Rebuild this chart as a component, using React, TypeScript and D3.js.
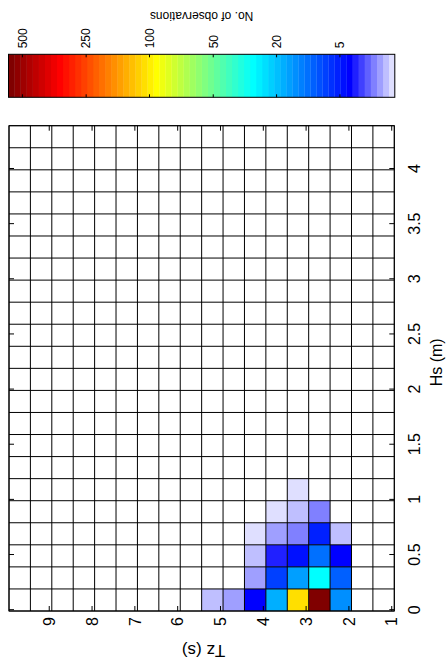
import React from "react";
import * as d3 from "d3";

const W = 448;
const H = 666;
const FONT = "'Liberation Sans', Arial, Helvetica, sans-serif";

// ---- data ----
const tzBinLower = [1, 1.5, 2, 2.5, 3, 3.5, 4, 4.5, 5];
const hsBinLower = [0, 0.2, 0.4, 0.6, 0.8, 1.0];
// rows: Hs bins, columns: Tz bins
const obsHs00 = [0, 0, 15.6, 540, 112, 18.5, 4.1, 1.4, 0.8];
const obsHs02 = [0, 0, 11.3, 31, 17, 8.5, 1.4, 0, 0];
const obsHs04 = [0, 0, 4.1, 12.7, 4.7, 3.6, 0.8, 0, 0];
const obsHs06 = [0, 0, 0.8, 5.6, 1.9, 1.4, 0.3, 0, 0];
const obsHs08 = [0, 0, 0, 1.9, 0.8, 0.3, 0, 0, 0];
const obsHs10 = [0, 0, 0, 0, 0.3, 0, 0, 0, 0];
const observations = [obsHs00, obsHs02, obsHs04, obsHs06, obsHs08, obsHs10];

const tzTicks = [1, 2, 3, 4, 5, 6, 7, 8, 9];
const hsTicks = [0, 0.5, 1, 1.5, 2, 2.5, 3, 3.5, 4];
const cbTicks = [5, 20, 50, 100, 250, 500];
const cbLevels = [0, 5, 20, 50, 100, 250, 500, 555];
const cbLevelPos = [0, 0.142, 0.306, 0.47, 0.635, 0.799, 0.964, 1];

const N_COLORS = 64;
const N_LAVENDER = 7;

function jetChannel(j: number) {
  if (j < 0 || j > 46) return 0;
  if (j < 16) return (j + 1) / 16;
  if (j <= 30) return 1;
  return (47 - j) / 16;
}
function colorAt(i: number) {
  if (i < N_LAVENDER) {
    const c = 1 - (i + 1) / 8;
    return d3.rgb(c * 255, c * 255, 255).formatHex();
  }
  const r = jetChannel(i - 24);
  const g = jetChannel(i - 8);
  const b = jetChannel(i + 8);
  return d3.rgb(r * 255, g * 255, b * 255).formatHex();
}
const palette = d3.range(N_COLORS).map(colorAt);

// ---- layout ----
const plot = { left: 9, right: 394.3, top: 125.7, bottom: 611 };
const cb = { left: 8.5, right: 394.8, top: 54.3, bottom: 97.3 };

// axis scales (Tz runs right->left, Hs bottom->top)
const tzAxis = d3.scaleLinear().domain([0.94, 9.94]).range([plot.right, plot.left]);
const hsAxis = d3.scaleLinear().domain([-0.012, 4.388]).range([plot.bottom, plot.top]);
// bin-edge scales
const tzGrid = d3.scaleLinear().domain([1, 10]).range([plot.right, plot.left]);
const hsGrid = d3.scaleLinear().domain([0, 4.4]).range([plot.bottom, plot.top]);

const valueToPos = d3.scaleLinear().domain(cbLevels).range(cbLevelPos).clamp(true);
const cbX = d3.scaleLinear().domain([0, 1]).range([cb.right, cb.left]);
const colorFor = (v: number) =>
  palette[Math.min(N_COLORS - 1, Math.floor(valueToPos(v) * N_COLORS))];

const tzEdges = d3.range(1, 10.0001, 0.5);
const hsEdges = d3.range(0, 4.40001, 0.2);

export default function App() {
  const tick = 5;
  const cap16 = 11.5;
  const cap12 = 8.6;
  return (
    <svg
      width={W}
      height={H}
      style={{ position: "absolute", left: 0, top: 0, background: "#fff" }}
      fontFamily={FONT}
    >
      <rect x={0} y={0} width={W} height={H} fill="#fff" />

      {/* colorbar */}
      {palette.map((c, i) => (
        <rect
          key={"cb" + i}
          x={cbX((i + 1) / N_COLORS)}
          y={cb.top}
          width={cbX(i / N_COLORS) - cbX((i + 1) / N_COLORS) + 0.3}
          height={cb.bottom - cb.top}
          fill={c}
        />
      ))}
      <rect
        x={cb.left}
        y={cb.top}
        width={cb.right - cb.left}
        height={cb.bottom - cb.top}
        fill="none"
        stroke="#000"
        strokeWidth={1}
      />
      {cbTicks.map((v) => {
        const x = cbX(valueToPos(v));
        return (
          <g key={"cbt" + v}>
            <line x1={x} x2={x} y1={cb.top} y2={cb.top + 3} stroke="#000" />
            <line x1={x} x2={x} y1={cb.bottom} y2={cb.bottom - 3} stroke="#000" />
            <text
              transform={`translate(${x + cap12 / 2},${cb.top - 6}) rotate(-90)`}
              fontSize={12}
              textAnchor="start"
            >
              {v}
            </text>
          </g>
        );
      })}
      <text
        transform={`translate(${(cb.left + cb.right) / 2},11.5) rotate(180)`}
        fontSize={12}
        textAnchor="middle"
      >
        No. of observations
      </text>

      {/* cells */}
      {observations.map((row, r) =>
        row.map((v, c) =>
          v > 0 ? (
            <rect
              key={`c${r}-${c}`}
              x={tzGrid(tzBinLower[c] + 0.5)}
              y={hsGrid(hsBinLower[r] + 0.2)}
              width={tzGrid(tzBinLower[c]) - tzGrid(tzBinLower[c] + 0.5)}
              height={hsGrid(hsBinLower[r]) - hsGrid(hsBinLower[r] + 0.2)}
              fill={colorFor(v)}
            />
          ) : null
        )
      )}

      {/* grid */}
      {tzEdges.map((t, i) => (
        <line
          key={"gv" + i}
          x1={tzGrid(t)}
          x2={tzGrid(t)}
          y1={plot.top}
          y2={plot.bottom}
          stroke="#000"
          strokeWidth={1}
        />
      ))}
      {hsEdges.map((h, i) => (
        <line
          key={"gh" + i}
          x1={plot.left}
          x2={plot.right}
          y1={hsGrid(h)}
          y2={hsGrid(h)}
          stroke="#000"
          strokeWidth={1}
        />
      ))}
      <rect
        x={plot.left}
        y={plot.top}
        width={plot.right - plot.left}
        height={plot.bottom - plot.top}
        fill="none"
        stroke="#000"
        strokeWidth={1}
      />

      {/* Tz axis (bottom) */}
      {tzTicks.map((t) => {
        const x = tzAxis(t);
        return (
          <g key={"tz" + t}>
            <line x1={x} x2={x} y1={plot.bottom} y2={plot.bottom - tick} stroke="#000" />
            <line x1={x} x2={x} y1={plot.top} y2={plot.top + tick} stroke="#000" />
            <text
              transform={`translate(${x + cap16 / 2},${plot.bottom + 6}) rotate(-90)`}
              fontSize={16}
              textAnchor="end"
            >
              {t}
            </text>
          </g>
        );
      })}
      <text
        transform={`translate(${(plot.left + plot.right) / 2 + 2},645) rotate(180)`}
        fontSize={17}
        textAnchor="middle"
      >
        Tz (s)
      </text>

      {/* Hs axis (right) */}
      {hsTicks.map((h) => {
        const y = hsAxis(h);
        return (
          <g key={"hs" + h}>
            <line x1={plot.right} x2={plot.right - tick} y1={y} y2={y} stroke="#000" />
            <line x1={plot.left} x2={plot.left + tick} y1={y} y2={y} stroke="#000" />
            <text
              transform={`translate(420,${y}) rotate(-90)`}
              fontSize={16}
              textAnchor="middle"
            >
              {String(h)}
            </text>
          </g>
        );
      })}
      <text
        transform={`translate(441.5,${(plot.top + plot.bottom) / 2 - 6}) rotate(-90)`}
        fontSize={16}
        textAnchor="middle"
      >
        Hs (m)
      </text>
    </svg>
  );
}
